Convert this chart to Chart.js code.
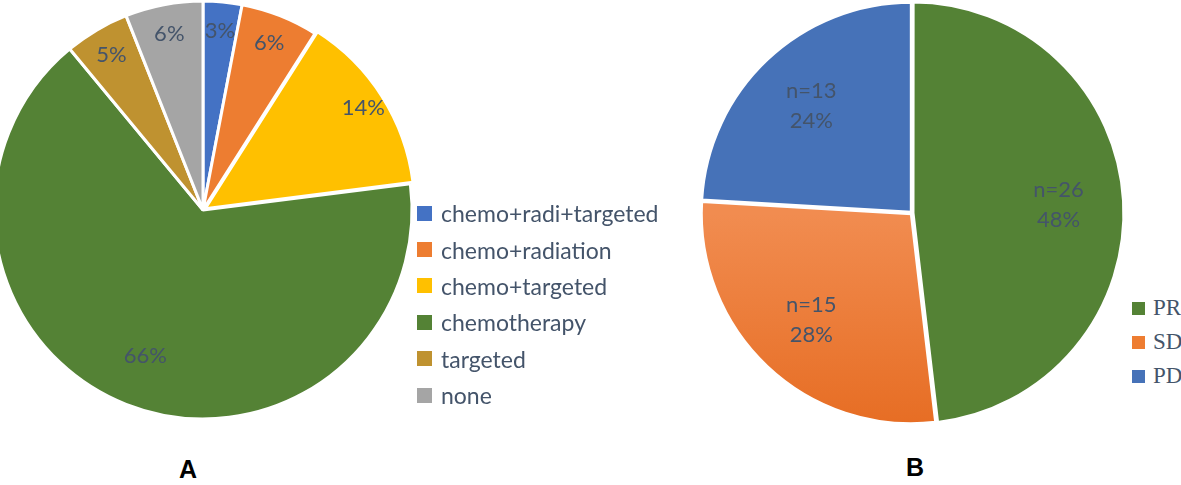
<!DOCTYPE html>
<html>
<head>
<meta charset="utf-8">
<script src="https://cdn.jsdelivr.net/npm/chart.js@4.4.1/dist/chart.umd.min.js"></script>
<style>
  body { margin: 0; background: #fff; width: 1181px; height: 485px; overflow: hidden; position: relative; font-family: Lato, sans-serif; }
  canvas { position: absolute; }
  #pieA { left: -17px; top: -10px; }
  #pieB { left: 692px; top: -7px; }
  .legend { position: absolute; margin: 0; padding: 0; list-style: none; white-space: nowrap; }
  .legend li { display: flex; align-items: center; color: #44546a; }
  .legend .box { display: inline-block; flex: none; }
  #legendA { left: 417px; top: 195px; font-size: 23px; }
  #legendA li { height: 36.4px; }
  #legendA .box { width: 15px; height: 15px; margin-right: 9px; }
  #legendB { left: 1132px; top: 291px; font-size: 23px; font-family: 'Liberation Serif', serif; color: #404b5a; }
  #legendB li { height: 34px; }
  #legendB .box { width: 13px; height: 13px; margin-right: 8px; }
  .panel { position: absolute; width: 40px; text-align: center; line-height: 30px; font: bold 25px 'Liberation Sans', Arial, sans-serif; color: #000; }
</style>
</head>
<body>
<canvas id="pieA" width="440" height="440"></canvas>
<canvas id="pieB" width="440" height="440"></canvas>
<ul class="legend" id="legendA"></ul>
<ul class="legend" id="legendB"></ul>
<div class="panel" style="left:168px; top:455px;">A</div>
<div class="panel" style="left:895px; top:453px;">B</div>

<script>
// painel A: tratamento prévio (% dos pacientes)
const treatLabels = ['chemo+radi+targeted', 'chemo+radiation', 'chemo+targeted', 'chemotherapy', 'targeted', 'none'];
const treatPercent = [3, 6, 14, 66, 5, 6];
const treatColors = ['#4472c4', '#ed7d31', '#ffc000', '#548235', '#bf9230', '#a5a5a5'];

// painel B: resposta (número de pacientes)
const responseLabels = ['PR', 'SD', 'PD'];
const responseCounts = [26, 15, 13];
const responseColors = ['#548235', '#ee7d31', '#4672b8'];

const labelColor = '#44546a';

// plugin simples pra escrever o texto dentro das fatias
const makeSliceLabels = (radiusFor, textFor, font, lineGap) => ({
    id: 'sliceLabels',
    afterDatasetsDraw(chart) {
        const ctx = chart.ctx;
        const meta = chart.getDatasetMeta(0);
        const values = chart.data.datasets[0].data;
        const total = values.reduce((a, b) => a + b, 0);
        ctx.save();
        ctx.font = font;
        ctx.fillStyle = labelColor;
        ctx.textAlign = 'center';
        ctx.textBaseline = 'middle';
        meta.data.forEach((arc, i) => {
            const p = arc.getProps(['x', 'y', 'startAngle', 'endAngle', 'outerRadius'], true);
            const mid = (p.startAngle + p.endAngle) / 2;
            const off = arc.options.offset || 0;
            const r = p.outerRadius * radiusFor(values[i] / total) + off;
            const cx = p.x + Math.cos(mid) * r;
            const cy = p.y + Math.sin(mid) * r;
            const lines = textFor(values[i], total);
            lines.forEach((t, k) => {
                ctx.fillText(t, cx, cy + (k - (lines.length - 1) / 2) * lineGap);
            });
        });
        ctx.restore();
    }
});

const buildLegend = (elementId, labels, colors) => {
    const el = document.getElementById(elementId);
    labels.forEach((name, i) => {
        const li = document.createElement('li');
        const box = document.createElement('span');
        box.className = 'box';
        box.style.background = colors[i];
        li.appendChild(box);
        li.appendChild(document.createTextNode(name));
        el.appendChild(li);
    });
};

// gráfico A
new Chart(document.getElementById('pieA'), {
    type: 'pie',
    data: {
        labels: treatLabels,
        datasets: [{
            data: treatPercent,
            backgroundColor: treatColors,
            borderColor: '#ffffff',
            borderWidth: 3,
            offset: treatLabels.map(l => l === 'chemo+targeted' ? 10 : 0)
        }]
    },
    options: {
        responsive: false,
        animation: false,
        events: [],
        radius: 209,
        plugins: { legend: { display: false }, tooltip: { enabled: false } }
    },
    plugins: [makeSliceLabels(
        share => share > 0.5 ? 0.75 : 0.86,
        v => [`${v}%`],
        '22px Lato, sans-serif',
        28
    )]
});

// gráfico B
new Chart(document.getElementById('pieB'), {
    type: 'pie',
    data: {
        labels: responseLabels,
        datasets: [{
            data: responseCounts,
            backgroundColor: (c) => {
                const area = c.chart.chartArea;
                if (c.dataIndex !== 1 || !area) return responseColors[c.dataIndex];
                const cy = (area.top + area.bottom) / 2;
                const g = c.chart.ctx.createLinearGradient(0, cy, 0, area.bottom);
                g.addColorStop(0, '#f18c50');
                g.addColorStop(1, '#e66c22');
                return g;
            },
            borderColor: '#ffffff',
            borderWidth: 3,
            offset: 4
        }]
    },
    options: {
        responsive: false,
        animation: false,
        events: [],
        radius: 210,
        plugins: { legend: { display: false }, tooltip: { enabled: false } }
    },
    plugins: [makeSliceLabels(
        () => 0.68,
        (v, total) => [`n=${v}`, `${Math.round(v / total * 100)}%`],
        '22px Lato, sans-serif',
        30
    )]
});

buildLegend('legendA', treatLabels, treatColors);
buildLegend('legendB', responseLabels, responseColors);
</script>
</body>
</html>
